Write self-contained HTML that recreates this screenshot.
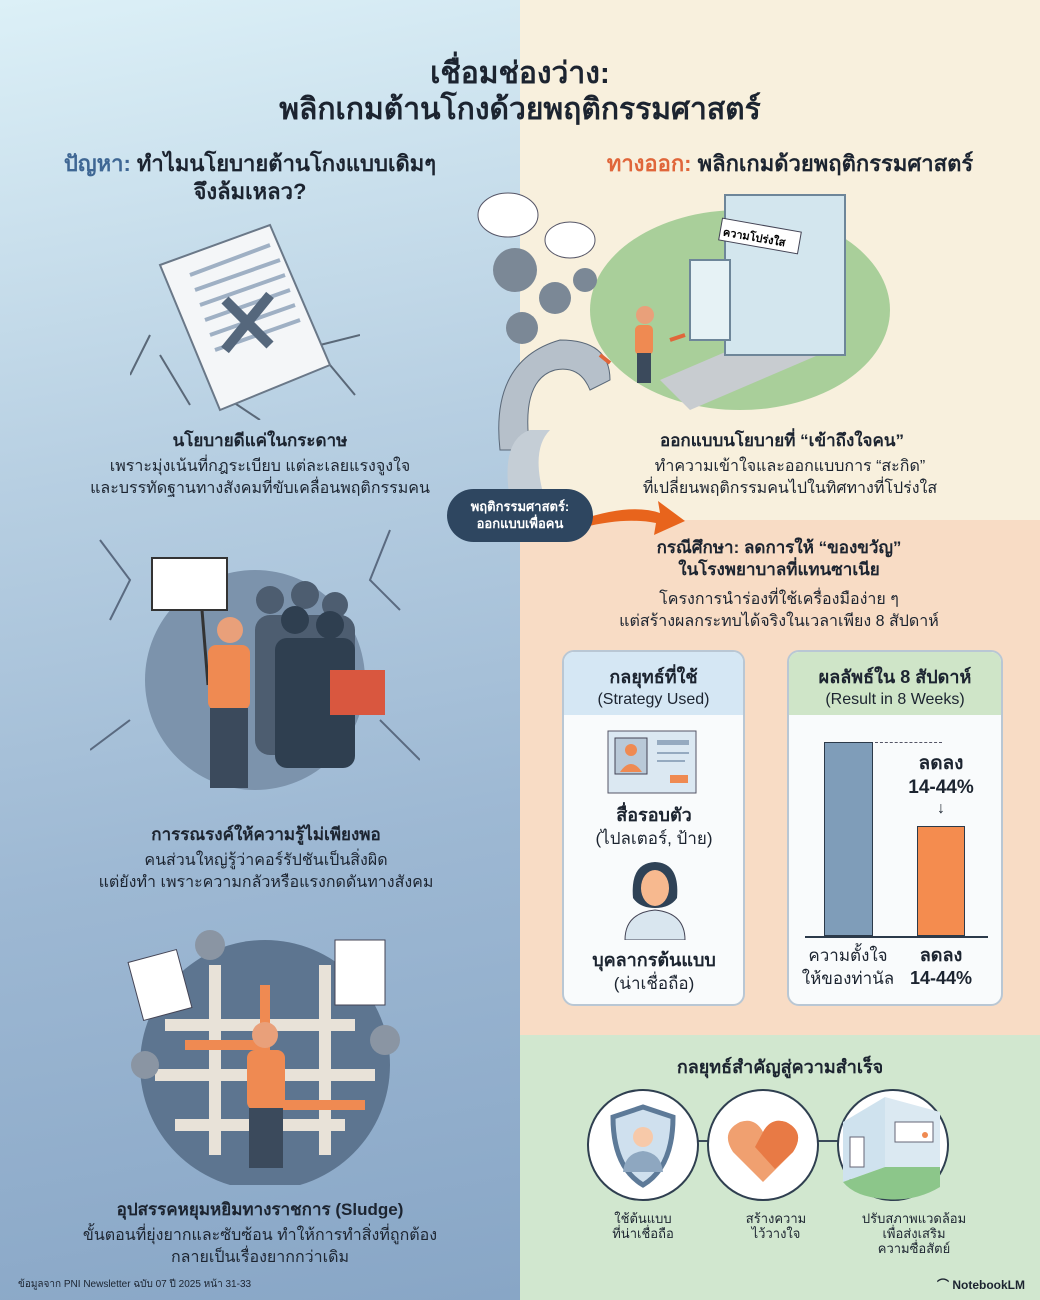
<!DOCTYPE html>
<html><head><meta charset="utf-8">
<style>
*{margin:0;padding:0;box-sizing:border-box}
body{width:1040px;height:1300px;position:relative;overflow:hidden;font-family:"Liberation Sans","DejaVu Sans",sans-serif;color:#1c2430}
.abs{position:absolute}
.t{position:absolute;text-align:center;white-space:nowrap;transform:translateX(-50%)}
.b{font-weight:bold}
</style></head><body>
<div class="abs" style="left:0;top:0;width:520px;height:1300px;background:linear-gradient(170deg,#dcf0f7 0%,#b7cfe2 35%,#9db8d3 65%,#88a6c6 100%)"></div>
<div class="abs" style="left:520px;top:0;width:520px;height:520px;background:#f8f0dd"></div>
<div class="abs" style="left:520px;top:520px;width:520px;height:515px;background:#f8dcc5"></div>
<div class="abs" style="left:520px;top:1035px;width:520px;height:265px;background:#d1e7cf"></div>

<div class="t b" style="left:520px;top:56px;font-size:30px;line-height:36px">เชื่อมช่องว่าง:<br>พลิกเกมต้านโกงด้วยพฤติกรรมศาสตร์</div>

<div class="t b" style="left:250px;top:150px;font-size:22px;line-height:28px"><span style="color:#3f6794">ปัญหา:</span> ทำไมนโยบายต้านโกงแบบเดิมๆ<br>จึงล้มเหลว?</div>
<div class="t b" style="left:790px;top:150px;font-size:22px;line-height:28px"><span style="color:#e0663a">ทางออก:</span> พลิกเกมด้วยพฤติกรรมศาสตร์</div>

<!-- left illus 1 -->
<svg class="abs" style="left:130px;top:215px" width="230" height="205">
<path d="M20 120 L0 160 M30 140 L60 190 M200 150 L225 180 M190 130 L230 120 M100 185 L130 205" stroke="#5a6878" stroke-width="2" fill="none"/>
<path d="M30 50 L140 10 L200 150 L90 195 Z" fill="#f4f6f8" stroke="#6a7888" stroke-width="2"/>
<path d="M60 60 L140 30 M65 75 L150 45 M70 90 L155 60 M75 105 L160 75 M80 120 L165 90 M85 135 L170 105" stroke="#9fb0c4" stroke-width="4"/>
<path d="M95 85 L140 130 M140 80 L95 135" stroke="#55677c" stroke-width="10"/>
</svg>
<div class="t b" style="left:260px;top:427px;font-size:17px">นโยบายดีแค่ในกระดาษ</div>
<div class="t" style="left:260px;top:456px;font-size:16px;line-height:22px">เพราะมุ่งเน้นที่กฎระเบียบ แต่ละเลยแรงจูงใจ<br>และบรรทัดฐานทางสังคมที่ขับเคลื่อนพฤติกรรมคน</div>

<!-- left illus 2 -->
<svg class="abs" style="left:90px;top:520px" width="330" height="290">
<path d="M10 20 L40 60 L20 100 M300 10 L280 60 L310 90 M40 200 L0 230 M290 200 L330 240" stroke="#5a6a80" stroke-width="2" fill="none"/>
<circle cx="165" cy="160" r="110" fill="#7c93ac"/>
<g fill="#4d5d70"><circle cx="180" cy="80" r="14"/><circle cx="215" cy="75" r="14"/><circle cx="245" cy="85" r="13"/><rect x="165" y="95" width="100" height="140" rx="15"/></g>
<g fill="#2f3f50"><circle cx="205" cy="100" r="14"/><circle cx="240" cy="105" r="14"/><rect x="185" y="118" width="80" height="130" rx="12"/></g>
<rect x="240" y="150" width="55" height="45" fill="#d9573f"/>
<rect x="62" y="38" width="75" height="52" fill="#fff" stroke="#333" stroke-width="2"/>
<line x1="112" y1="90" x2="118" y2="165" stroke="#333" stroke-width="3"/>
<circle cx="140" cy="110" r="13" fill="#e9a07a"/>
<rect x="118" y="125" width="42" height="65" rx="8" fill="#ef8a52"/>
<rect x="120" y="188" width="38" height="80" fill="#3b4a5c"/>
</svg>
<div class="t b" style="left:266px;top:821px;font-size:17px">การรณรงค์ให้ความรู้ไม่เพียงพอ</div>
<div class="t" style="left:266px;top:850px;font-size:16px;line-height:22px">คนส่วนใหญ่รู้ว่าคอร์รัปชันเป็นสิ่งผิด<br>แต่ยังทำ เพราะความกลัวหรือแรงกดดันทางสังคม</div>

<!-- left illus 3 -->
<svg class="abs" style="left:125px;top:925px" width="285" height="260">
<circle cx="140" cy="140" r="125" fill="#5d7590"/>
<path d="M40 100 H230 M30 150 H250 M50 200 H220 M90 40 V230 M200 40 V230" stroke="#e8e2d8" stroke-width="12" fill="none"/>
<path d="M60 120 H140 V60 M150 180 H240" stroke="#ef8a52" stroke-width="10" fill="none"/>
<rect x="10" y="30" width="50" height="60" fill="#fff" stroke="#445" transform="rotate(-15 35 60)"/>
<rect x="210" y="15" width="50" height="65" fill="#fff" stroke="#445"/>
<circle cx="85" cy="20" r="15" fill="#8a95a3"/><circle cx="20" cy="140" r="14" fill="#8a95a3"/><circle cx="260" cy="115" r="15" fill="#8a95a3"/>
<circle cx="140" cy="110" r="13" fill="#e9a07a"/>
<rect x="122" y="125" width="38" height="60" rx="8" fill="#ef8a52"/>
<rect x="124" y="183" width="34" height="60" fill="#3b4a5c"/>
</svg>
<div class="t b" style="left:260px;top:1196px;font-size:17px">อุปสรรคหยุมหยิมทางราชการ (Sludge)</div>
<div class="t" style="left:260px;top:1225px;font-size:16px;line-height:22px">ขั้นตอนที่ยุ่งยากและซับซ้อน ทำให้การทำสิ่งที่ถูกต้อง<br>กลายเป็นเรื่องยากกว่าเดิม</div>
<div class="abs" style="left:18px;top:1277px;font-size:10px;white-space:nowrap">ข้อมูลจาก PNI Newsletter ฉบับ 07 ปี 2025 หน้า 31-33</div>

<!-- right illus -->
<svg class="abs" style="left:470px;top:180px" width="450" height="320">
<ellipse cx="270" cy="130" rx="150" ry="100" fill="#a9cf9a"/>
<path d="M190 200 L330 140 L360 170 L220 230 Z" fill="#c8ccd0"/>
<rect x="255" y="15" width="120" height="160" fill="#d3e6ee" stroke="#6e8699" stroke-width="2"/>
<rect x="220" y="80" width="40" height="80" fill="#e6f2f5" stroke="#6e8699" stroke-width="2"/>
<rect x="250" y="45" width="80" height="22" fill="#fff" stroke="#445" transform="rotate(10 290 56)"/>
<text x="253" y="62" font-size="11" font-weight="bold" transform="rotate(10 290 56)">ความโปร่งใส</text>
<circle cx="175" cy="135" r="9" fill="#e9a07a"/><rect x="165" y="145" width="18" height="30" rx="5" fill="#ef8a52"/><rect x="167" y="173" width="14" height="30" fill="#3b4a5c"/>
<path d="M30 270 Q20 180 90 160 Q140 160 140 200 L120 210 Q110 185 85 190 Q50 200 60 270 Z" fill="#b6c0ca" stroke="#5a6878"/>
<path d="M40 320 Q30 260 60 250 L80 250 Q60 270 75 320 Z" fill="#c5ced6"/>
<ellipse cx="38" cy="35" rx="30" ry="22" fill="#fff" stroke="#556"/><ellipse cx="100" cy="60" rx="25" ry="18" fill="#fff" stroke="#556"/>
<circle cx="45" cy="90" r="22" fill="#7b8896"/><circle cx="85" cy="118" r="16" fill="#7b8896"/><circle cx="52" cy="148" r="16" fill="#7b8896"/><circle cx="115" cy="100" r="12" fill="#7b8896"/>
<path d="M130 175 l10 8 M200 160 l15 -5" stroke="#e0663a" stroke-width="4"/>
</svg>

<div class="t b" style="left:782px;top:427px;font-size:17px">ออกแบบนโยบายที่ “เข้าถึงใจคน”</div>
<div class="t" style="left:790px;top:456px;font-size:16px;line-height:22px">ทำความเข้าใจและออกแบบการ “สะกิด”<br>ที่เปลี่ยนพฤติกรรมคนไปในทิศทางที่โปร่งใส</div>

<svg class="abs" style="left:580px;top:495px" width="110" height="45"><path d="M0 25 Q50 8 80 18 L78 6 L105 26 L74 40 L76 28 Q45 22 5 32 Z" fill="#e8641c"/></svg>
<div class="abs" style="left:447px;top:489px;width:146px;height:53px;border-radius:27px;background:#2e4660;color:#fff;font-size:13px;font-weight:bold;text-align:center;line-height:17px;padding-top:9px">พฤติกรรมศาสตร์:<br>ออกแบบเพื่อคน</div>

<div class="t b" style="left:779px;top:537px;font-size:17px;line-height:22px">กรณีศึกษา: ลดการให้ “ของขวัญ”<br>ในโรงพยาบาลที่แทนซาเนีย</div>
<div class="t" style="left:779px;top:589px;font-size:16px;line-height:22px">โครงการนำร่องที่ใช้เครื่องมือง่าย ๆ<br>แต่สร้างผลกระทบได้จริงในเวลาเพียง 8 สัปดาห์</div>

<!-- cards -->
<div class="abs" style="left:562px;top:650px;width:183px;height:356px;border:2px solid #b9c7d4;border-radius:12px;background:#f9fbfc;overflow:hidden">
 <div style="height:63px;background:#d5e7f4;text-align:center;padding-top:10px"><div class="b" style="font-size:18px">กลยุทธ์ที่ใช้</div><div style="font-size:16px">(Strategy Used)</div></div>
</div>
<svg class="abs" style="left:607px;top:730px" width="92" height="64"><rect x="1" y="1" width="88" height="62" fill="#dbe8f2" stroke="#556"/><rect x="8" y="8" width="32" height="36" fill="#b9c9d8" stroke="#445"/><circle cx="24" cy="20" r="6" fill="#ef8a52"/><path d="M13 42 Q24 26 35 42Z" fill="#ef8a52"/><rect x="50" y="10" width="32" height="5" fill="#95aac0"/><rect x="50" y="22" width="32" height="2" fill="#95aac0"/><rect x="50" y="30" width="28" height="2" fill="#95aac0"/><rect x="63" y="45" width="18" height="8" fill="#ef8a52"/></svg>
<div class="t b" style="left:654px;top:800px;font-size:18px">สื่อรอบตัว</div>
<div class="t" style="left:654px;top:825px;font-size:17px">(ไปลเตอร์, ป้าย)</div>
<svg class="abs" style="left:615px;top:858px" width="80" height="82"><path d="M10 82 Q10 55 40 52 Q70 55 70 82Z" fill="#d9e6ef" stroke="#445"/><path d="M18 40 Q15 5 40 4 Q65 5 62 40 Q55 50 40 50 Q25 50 18 40Z" fill="#2f4256"/><ellipse cx="40" cy="30" rx="14" ry="18" fill="#f7b98f"/></svg>
<div class="t b" style="left:654px;top:945px;font-size:18px">บุคลากรต้นแบบ</div>
<div class="t" style="left:654px;top:970px;font-size:17px">(น่าเชื่อถือ)</div>

<div class="abs" style="left:787px;top:650px;width:216px;height:356px;border:2px solid #b9c7d4;border-radius:12px;background:#f9fbfc;overflow:hidden">
 <div style="height:63px;background:#cfe5c8;text-align:center;padding-top:10px"><div class="b" style="font-size:18px">ผลลัพธ์ใน 8 สัปดาห์</div><div style="font-size:16px">(Result in 8 Weeks)</div></div>
</div>
<div class="abs" style="left:824px;top:742px;width:49px;height:194px;background:#7f9db9;border:1.5px solid #2c3a4a"></div>
<div class="abs" style="left:917px;top:826px;width:48px;height:110px;background:#f48c4f;border:1.5px solid #2c3a4a"></div>
<div class="abs" style="left:805px;top:936px;width:183px;height:2px;background:#2c3a4a"></div>
<div class="abs" style="left:875px;top:742px;width:67px;border-top:1.5px dashed #556"></div>
<div class="t b" style="left:941px;top:752px;font-size:19px;line-height:24px">ลดลง<br>14-44%</div>
<div class="t" style="left:941px;top:800px;font-size:16px">↓</div>
<div class="t" style="left:848px;top:944px;font-size:17px;line-height:23px">ความตั้งใจ<br>ให้ของท่านัล</div>
<div class="t b" style="left:941px;top:944px;font-size:18px;line-height:23px">ลดลง<br>14-44%</div>

<!-- bottom -->
<div class="t b" style="left:780px;top:1052px;font-size:18px">กลยุทธ์สำคัญสู่ความสำเร็จ</div>
<div class="abs" style="left:690px;top:1140px;width:160px;height:2px;background:#3a4a5a"></div>
<svg class="abs" style="left:585px;top:1087px" width="370" height="120">
<circle cx="58" cy="58" r="55" fill="#fff" stroke="#2f3f50" stroke-width="2"/>
<path d="M58 20 L88 30 Q88 80 58 98 Q28 80 28 30Z" fill="#cfe0ee" stroke="#5d7a98" stroke-width="5"/>
<circle cx="58" cy="50" r="10" fill="#f7c9a9"/><path d="M38 85 Q40 66 58 64 Q76 66 78 85Z" fill="#8ea7c0"/>
<circle cx="178" cy="58" r="55" fill="#fff" stroke="#2f3f50" stroke-width="2"/>
<path d="M178 95 L148 65 Q135 45 155 35 Q170 30 178 45 Q186 30 201 35 Q221 45 208 65Z" fill="#f0a070"/>
<path d="M178 45 Q186 30 201 35 Q221 45 208 65 L190 82 L170 60Z" fill="#e87a45"/>
<circle cx="308" cy="58" r="55" fill="#fff" stroke="#2f3f50" stroke-width="2"/>
<path d="M258 35 L300 10 L300 80 L258 95Z" fill="#cfe2ee"/><path d="M300 10 L355 25 L355 80 L300 80Z" fill="#dbe9f2"/>
<path d="M258 95 L300 80 L355 80 L355 100 Q330 115 300 112 Q270 110 258 95Z" fill="#8cc68a"/>
<rect x="265" y="50" width="14" height="30" fill="#fff" stroke="#667"/><rect x="310" y="35" width="38" height="20" fill="#fff" stroke="#667"/><circle cx="340" cy="48" r="3" fill="#ef8a52"/>
</svg>
<div class="t" style="left:643px;top:1211px;font-size:13px;line-height:15px">ใช้ต้นแบบ<br>ที่น่าเชื่อถือ</div>
<div class="t" style="left:776px;top:1211px;font-size:13px;line-height:15px">สร้างความ<br>ไว้วางใจ</div>
<div class="t" style="left:914px;top:1211px;font-size:13px;line-height:15px">ปรับสภาพแวดล้อม<br>เพื่อส่งเสริม<br>ความซื่อสัตย์</div>
<div class="abs b" style="left:937px;top:1276px;font-size:12px;white-space:nowrap">⌒ NotebookLM</div>
</body></html>
